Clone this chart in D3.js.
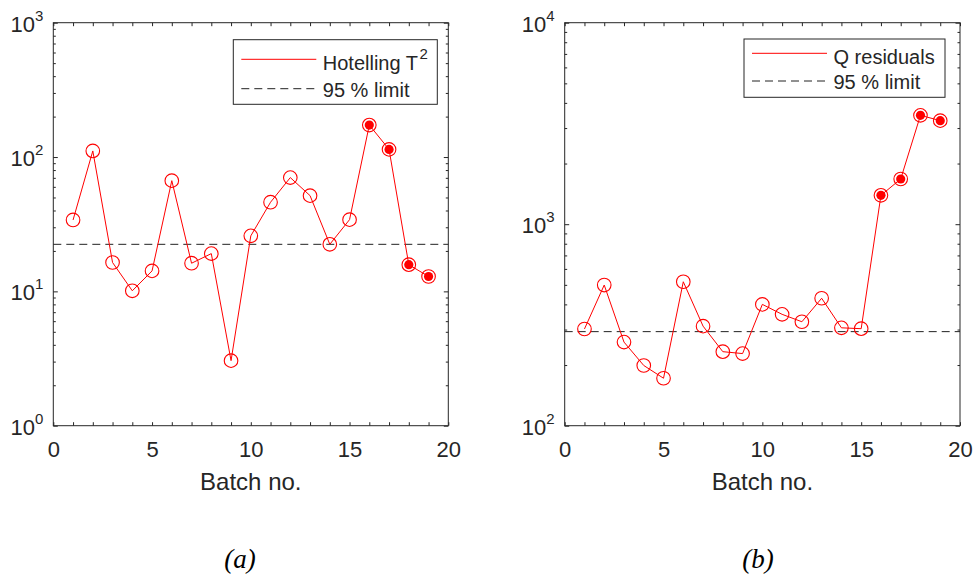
<!DOCTYPE html>
<html>
<head>
<meta charset="utf-8">
<script src="https://cdn.jsdelivr.net/npm/d3@7"></script>
<style>
  body { margin: 0; background: #fff; }
  svg { display: block; }
  text { font-family: "Liberation Sans", Arial, sans-serif; fill: #262626; }
</style>
</head>
<body>
<svg width="975" height="575"></svg>
<script>
// batch numbers and the two monitoring statistics
const batches = [1, 2, 3, 4, 5, 6, 7, 8, 9, 10, 11, 12, 13, 14, 15, 16, 17, 18, 19];
const hotellingT2 = [34, 111, 16.4, 10.1, 14.2, 66.7, 16.2, 19.1, 3.05, 25.9, 46.1, 70.3, 51.6, 22.4, 34.2, 173, 114, 15.8, 12.9];
const qResiduals = [302, 499, 260, 199, 172, 518, 312, 233, 228, 400, 357, 328, 429, 306, 303, 1391, 1676, 3470, 3265];
const t2Limit = 22.4;
const qLimit = 293;
const flaggedBatches = [16, 17, 18, 19];
const xTickValues = [0, 1, 2, 3, 4, 5, 6, 7, 8, 9, 10, 11, 12, 13, 14, 15, 16, 17, 18, 19, 20];

const svg = d3.select('svg');

const panels = [
    { values: hotellingT2, limit: t2Limit, exps: [0, 1, 2, 3], left: 53.3, right: 448.3,
      legend: { x0: 233.3, x1: 437.3, y0: 39.7, y1: 104.3, rows: [59.3, 88.7], base: [70, 96.5] },
      name: 'Hotelling T', sup: '2', caption: '(a)', capX: 240 },
    { values: qResiduals, limit: qLimit, exps: [2, 3, 4], left: 564.7, right: 960,
      legend: { x0: 744, x1: 945, y0: 39, y1: 97.3, rows: [53.3, 81], base: [63.5, 89] },
      name: 'Q residuals', sup: null, caption: '(b)', capX: 758 }
];

const plotTop = 22.7, plotBottom = 425.7;
const tickFont = 22, supFont = 15, legendFont = 20;

panels.forEach(p => drawPanel(p));

function drawPanel(p) {
    const x = d3.scaleLinear().domain([0, 20]).range([p.left, p.right]);
    const lo = Math.pow(10, p.exps[0]), hi = Math.pow(10, p.exps[p.exps.length - 1]);
    const y = d3.scaleLog().domain([lo, hi]).range([plotBottom, plotTop]);
    const decades = p.exps.map(e => Math.pow(10, e));
    const minor = [];
    decades.slice(0, -1).forEach(d => { for (let k = 2; k < 10; k++) minor.push(d * k); });

    const g = svg.append('g');

    // x axes (ticks pointing inwards)
    g.append('g')
        .attr('transform', `translate(0,${plotBottom})`)
        .call(d3.axisBottom(x).tickValues(xTickValues).tickSizeInner(-3.5).tickSizeOuter(0)
              .tickPadding(16).tickFormat(d => d % 5 === 0 ? d : ''))
        .call(a => a.select('.domain').remove())
        .call(a => a.selectAll('text').style('font-size', tickFont + 'px').attr('fill', '#262626'));
    g.append('g')
        .attr('transform', `translate(0,${plotTop})`)
        .call(d3.axisTop(x).tickValues(xTickValues).tickSizeInner(-3.5).tickSizeOuter(0).tickFormat(''))
        .call(a => a.select('.domain').remove());

    // y axes, major and minor log ticks
    [[d3.axisLeft, p.left], [d3.axisRight, p.right]].forEach(([axis, xp]) => {
        g.append('g').attr('transform', `translate(${xp},0)`)
            .call(axis(y).tickValues(minor).tickSizeInner(-2.5).tickSizeOuter(0).tickFormat(''))
            .call(a => a.select('.domain').remove());
        g.append('g').attr('transform', `translate(${xp},0)`)
            .call(axis(y).tickValues(decades).tickSizeInner(-4.5).tickSizeOuter(0).tickFormat(''))
            .call(a => a.select('.domain').remove());
    });
    g.selectAll('.tick line').attr('stroke', '#262626');

    // 10^n labels
    const lab = g.append('g').selectAll('text').data(p.exps).join('text')
        .attr('x', p.left - 10)
        .attr('y', e => y(Math.pow(10, e)) + 9)
        .attr('text-anchor', 'end')
        .style('font-size', tickFont + 'px');
    lab.append('tspan').text('10');
    lab.append('tspan').attr('dy', -11).style('font-size', supFont + 'px').text(e => e);

    // box
    g.append('rect')
        .attr('x', p.left).attr('y', plotTop)
        .attr('width', p.right - p.left).attr('height', plotBottom - plotTop)
        .attr('fill', 'none').attr('stroke', '#262626').attr('stroke-width', 1);

    // limit line
    g.append('line')
        .attr('x1', x(0)).attr('x2', x(20))
        .attr('y1', y(p.limit)).attr('y2', y(p.limit))
        .attr('stroke', '#222').attr('stroke-width', 1).attr('stroke-dasharray', '8,5');

    // series
    const pts = batches.map((b, i) => ({ b, v: p.values[i] }));
    g.append('path')
        .datum(pts)
        .attr('fill', 'none').attr('stroke', '#ff0000').attr('stroke-width', 1)
        .attr('d', d3.line().x(d => x(d.b)).y(d => y(d.v)));

    g.append('g').selectAll('circle').data(pts).join('circle')
        .attr('cx', d => x(d.b)).attr('cy', d => y(d.v))
        .attr('r', 6.8)
        .attr('fill', 'none').attr('stroke', '#ff0000').attr('stroke-width', 1.1);

    g.append('g').selectAll('circle').data(pts.filter(d => flaggedBatches.includes(d.b))).join('circle')
        .attr('cx', d => x(d.b)).attr('cy', d => y(d.v))
        .attr('r', 4.6)
        .attr('fill', '#ff0000');

    // x label
    g.append('text')
        .attr('x', (p.left + p.right) / 2).attr('y', 490)
        .attr('text-anchor', 'middle')
        .style('font-size', '24px')
        .text('Batch no.');

    // legend
    const L = p.legend;
    const leg = g.append('g');
    leg.append('rect')
        .attr('x', L.x0).attr('y', L.y0)
        .attr('width', L.x1 - L.x0).attr('height', L.y1 - L.y0)
        .attr('fill', '#fff').attr('stroke', '#262626').attr('stroke-width', 1);
    leg.append('line')
        .attr('x1', L.x0 + 8).attr('x2', L.x0 + 83)
        .attr('y1', L.rows[0]).attr('y2', L.rows[0])
        .attr('stroke', '#ff0000').attr('stroke-width', 1);
    leg.append('line')
        .attr('x1', L.x0 + 8).attr('x2', L.x0 + 83)
        .attr('y1', L.rows[1]).attr('y2', L.rows[1])
        .attr('stroke', '#222').attr('stroke-width', 1).attr('stroke-dasharray', '8,5');
    const t1 = leg.append('text')
        .attr('x', L.x0 + 89.5).attr('y', L.base[0])
        .style('font-size', legendFont + 'px');
    t1.append('tspan').text(p.name);
    if (p.sup) t1.append('tspan').attr('dx', 1.5).attr('dy', -11).style('font-size', supFont + 'px').text(p.sup);
    leg.append('text')
        .attr('x', L.x0 + 89.5).attr('y', L.base[1])
        .style('font-size', legendFont + 'px')
        .text('95 % limit');

    // caption
    svg.append('text')
        .attr('x', p.capX).attr('y', 568)
        .attr('text-anchor', 'middle')
        .style('font-family', '"Liberation Serif", "Times New Roman", serif')
        .style('font-style', 'italic')
        .style('font-size', '27px')
        .style('fill', '#000')
        .text(p.caption);
}
</script>
</body>
</html>
